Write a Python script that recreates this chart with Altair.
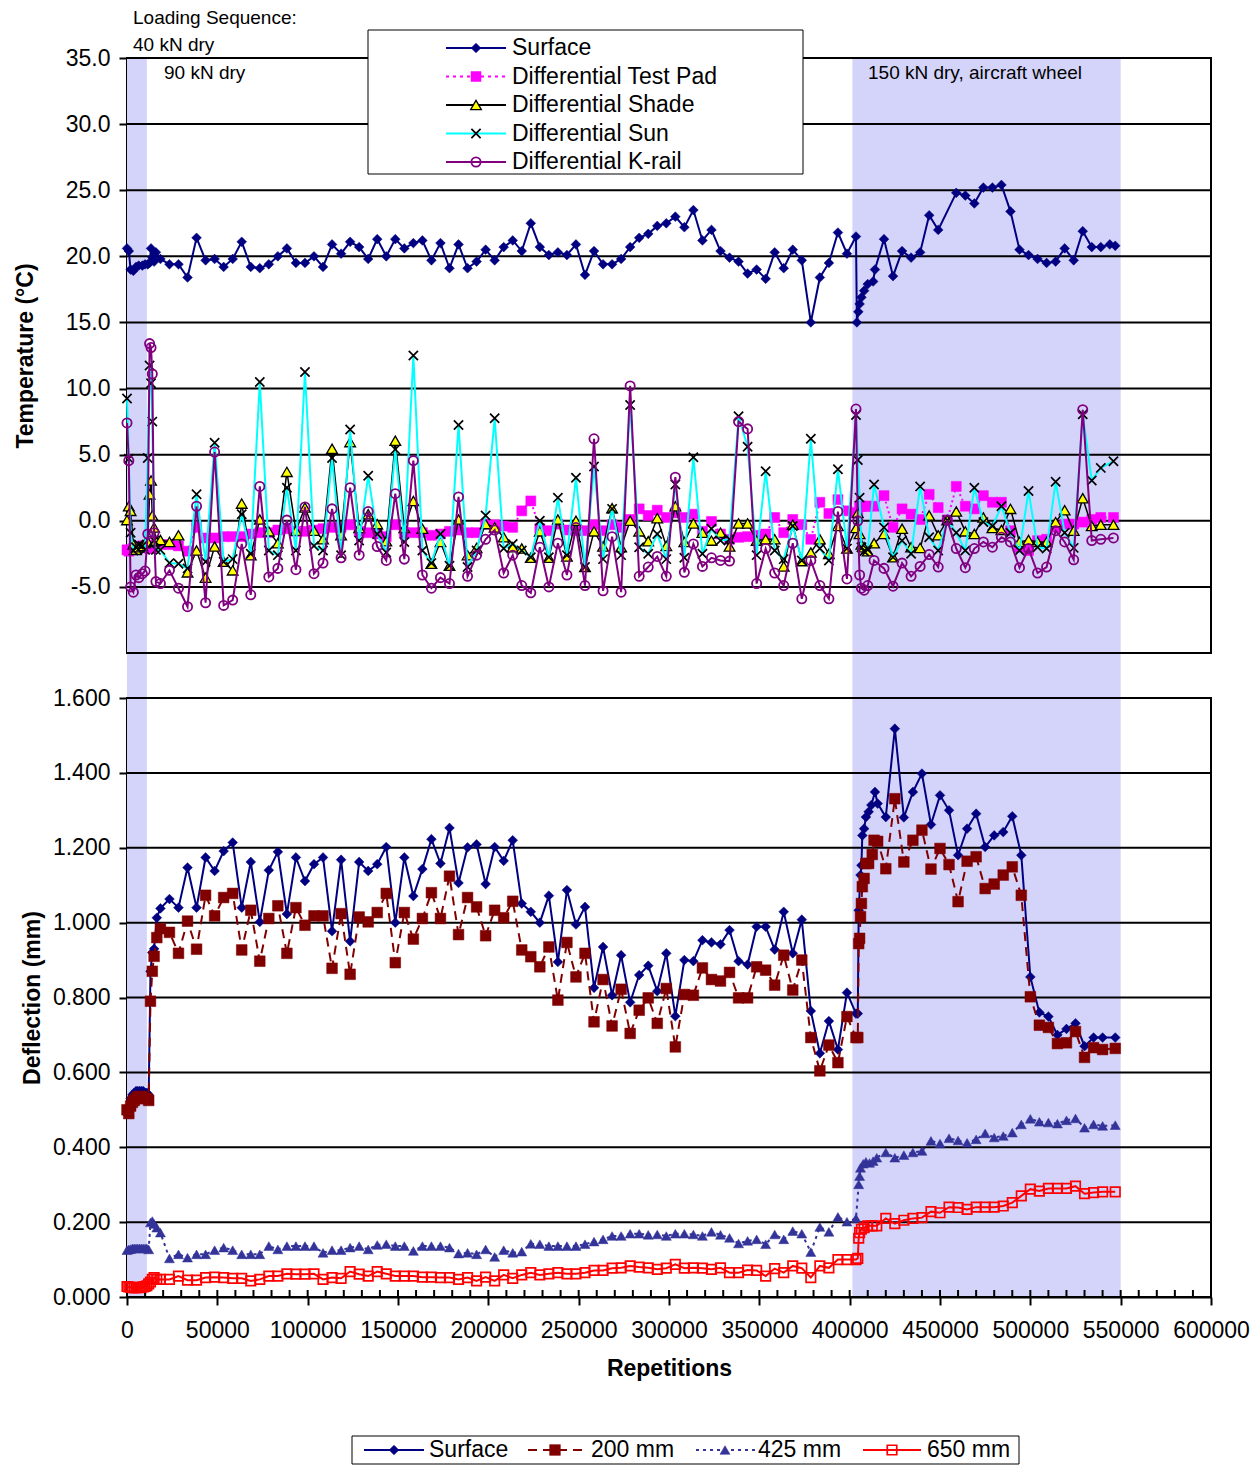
import altair as alt
import pandas as pd

FONT = "Liberation Sans, Arial, sans-serif"
W, HT, HD, GAP = 1084, 595, 599, 45

# ---------------- shared x schedule (repetitions) ----------------
MAIN_X = [18500, 23500, 28500, 33500, 38500, 43500, 48500, 53500, 58500, 63500,
          68500, 73500, 78500, 83500, 88500, 93500, 98500, 103500, 108500, 113500,
          118500, 123500, 128500, 133500, 138500, 143500, 148500, 153500, 158500, 163500,
          168500, 173500, 178500, 183500, 188500, 193500, 198500, 203500, 208500, 213500,
          218500, 223500, 228500, 233500, 238500, 243500, 248500, 253500, 258500, 263500,
          268500, 273500, 278500, 283500, 288500, 293500, 298500, 303500, 308500, 313500,
          318500, 323500, 328500, 333500, 338500, 343500, 348500, 353500, 358500, 363500,
          368500, 373500, 378500, 383500, 388500, 393500, 398500, 403500]

# ---------------- temperature panel ----------------
T_EARLY_X = [0, 1000, 2000, 3500, 5000, 6500, 8500, 10000, 11500, 12500, 13300, 14000, 15000, 16000]
T_BAND_X = [404500, 405500, 406500, 408000, 410000, 413500, 419000, 424000, 429000, 434000,
            439000, 444000, 449000, 454000, 459000, 464000, 469000, 474000, 479000, 484000,
            489000, 494000, 499000, 504000, 509000, 514000, 519000, 524000, 529000, 534000,
            539000, 546000]
SURF_T_BAND_X = [404000, 404800, 405500, 406500, 408000, 410000, 413000, 414000, 419000, 424000,
                 429000, 434000, 439000, 444000, 449000, 459000, 464000, 469000, 474000, 479000,
                 484000, 489000, 494000, 499000, 504000, 509000, 514000, 519000, 524000, 529000,
                 534000, 539000, 544000, 547000]

SURF_T_EARLY = [20.6, 20.4, 19.0, 18.9, 19.2, 19.3, 19.3, 19.4, 19.4, 19.5, 20.6, 19.9, 19.6, 20.3]
SURF_T_MAIN = [19.8, 19.4, 19.4, 18.4, 21.4, 19.7, 19.8, 19.2, 19.8, 21.1, 19.2, 19.1, 19.4, 20.0, 20.6,
               19.5, 19.5, 20.0, 19.2, 20.9, 20.2, 21.1, 20.7, 19.8, 21.3, 20.0, 21.3, 20.6, 21.0, 21.2,
               19.7, 21.0, 19.1, 20.9, 19.1, 19.6, 20.5, 19.7, 20.7, 21.2, 20.4, 22.5, 20.7, 20.1, 20.3,
               20.1, 20.9, 18.6, 20.4, 19.4, 19.4, 19.8, 20.7, 21.4, 21.7, 22.3, 22.5, 23.0, 22.2, 23.5,
               21.2, 22.0, 20.4, 19.9, 19.6, 18.7, 19.0, 18.3, 20.3, 19.1, 20.5, 19.7, 15.0, 18.4, 19.5,
               21.8, 20.2, 21.5]
SURF_T_BAND = [15.0, 15.8, 16.4, 16.9, 17.4, 17.9, 18.1, 19.0, 21.3, 18.5, 20.4, 19.9, 20.3, 23.1, 22.0,
               24.8, 24.6, 24.0, 25.2, 25.2, 25.4, 23.4, 20.5, 20.1, 19.8, 19.5, 19.6, 20.6, 19.7, 21.9,
               20.7, 20.7, 20.9, 20.8]

PAD_EARLY = [-2.2, -2.3, -2.2, -2.1, -2.0, -2.0, -1.9, -1.9, -2.0, -2.1, -2.1, -2.0, -1.9, -1.8]
PAD_MAIN = [-1.8, -1.8, -1.9, -2.3, -0.5, -1.3, -1.3, -1.2, -1.2, -1.2, -1.0, -0.9, -0.9, -0.7, -0.6,
            -0.8, -0.8, -0.7, -0.6, -0.5, -0.5, -0.3, -0.8, -0.9, -1.0, -1.2, -0.3, -0.9, -0.9, -0.9,
            -1.1, -1.0, -0.8, -0.7, -0.9, -0.9, -0.25, -0.3, -0.4,
            -0.5, 0.75, 1.5, -0.6, -0.75, -0.25, -0.7, -0.75, -0.75, -0.3, -0.75, -0.3, -0.5, 0.1, 0.9,
            0.4, 0.8, 0.25, 0.6, 0.25, 0.5, -0.8, -0.05, -1.0, -1.4, -1.25, -1.2, -1.1, -1.0, 0.25,
            -0.9, 0.1, -0.3, -1.4, 1.4, 0.55, 1.6, 0.75, 0.6]
PAD_BAND = [0.6, 1.1, 1.1, 1.1, 1.1, 1.1, 1.9, -0.5, 0.9, 0.5, 0.1, 2.0, 1.0, 0.05, 2.6, 1.1, 0.9, 1.9,
            1.4, 1.4, -0.75, -2.0, -2.25, -1.5, -1.4, -0.5, -0.25, -0.25, -0.1, 0.1, 0.25, 0.25]

SHADE_EARLY = [0.05, 1.1, 0.75, -1.8, -2.2, -2.0, -1.9, -1.7, -1.6, 2.0, 3.05, 0.4, -0.5, -1.5]
SHADE_MAIN = [-1.45, -1.6, -1.1, -3.9, -2.25, -4.3, -1.95, -3.1, -3.75, 1.3, -2.6, 0.1, -0.8, -1.7, 3.7,
              -0.75, 1.0, -0.75, -1.4, 5.45, -1.1, 5.95, -0.55, 0.5, -0.25, -1.55, 6.05, -0.55, 1.5, -0.6,
              -3.25, -1.6, -3.4, 0.1, -2.6, -2.05, -0.25, -0.5, -1.25,
              -2.0, -2.1, -2.8, -0.8, -2.8, 0.1, -2.7, 0.0, -3.5, -0.8, -1.95, 0.95, -2.0, 0.0, -0.8,
              -1.55, 0.2, -1.9, 1.1, -1.6, -0.2, -0.9, -1.5, -0.9, -1.95, -0.2, -0.2, -1.5, -1.4, -1.4,
              -3.45, -0.3, -3.05, -2.4, -1.4, -2.5, -0.4, -2.1, -0.55]
SHADE_BAND = [0.6, -1.0, -1.8, -2.0, -2.3, -1.7, -1.0, -2.75, -0.6, -2.0, -2.05, 0.4, -1.1, 0.05, 0.7,
              -0.8, -1.0, 0.25, -0.55, -0.7, 0.9, -1.6, -1.45, -1.6, -1.6, -0.1, 0.8, -0.75, 1.7, -0.4,
              -0.3, -0.3]

SUN_EARLY = [9.25, 4.7, -0.9, -2.25, -2.0, -1.8, -1.9, -2.2, 4.75, 11.75, 10.4, 7.5, -1.5, -2.2]
SUN_MAIN = [-2.2, -3.2, -3.25, -3.6, 2.0, -3.1, 5.9, -3.1, -2.9, 0.5, -2.5, 10.5, -2.25, -2.6, 2.5,
            -2.25, 11.25, -1.9, -2.25, 4.75, -2.6, 6.9, -1.5, 3.4, -1.0, -2.4, 5.4, -1.6, 12.5, -2.25,
            -3.2, -1.0, -3.4, 7.25, -3.5, -2.25, 0.4, 7.75, -2.1,
            -1.75, -2.25, -2.75, 0.0, -2.75, 1.75, -2.6, 3.25, -3.5, 4.1, -2.9, 0.9, -2.6, 8.75, -2.0,
            -2.5, -1.0, -2.9, 2.75, -2.8, 4.8, -2.5, -0.6, -1.5, -1.4, 7.9, 5.6, -2.6, 3.75, -2.25,
            -2.9, -0.4, -3.0, 6.2, -2.1, -3.0, 3.9, -2.1, 8.0]
SUN_BAND = [4.6, 1.75, -2.0, -2.3, -2.2, 2.75, -0.5, -2.75, -1.5, -2.5, 2.6, -1.25, -2.25, 0.05, -0.9,
            -2.25, 2.5, -0.1, -0.4, 1.1, -0.9, -2.25, 2.25, -2.0, -2.1, 2.95, -0.9, -2.05, 8.05, 3.05,
            4.0, 4.5]

KRAIL_EARLY = [7.4, 4.55, -5.0, -5.4, -4.1, -4.3, -4.0, -3.8, -1.0, 13.4, 13.1, 11.1, -0.9, -4.6]
KRAIL_MAIN = [-4.75, -3.75, -5.1, -6.5, 1.1, -6.2, 5.2, -6.4, -6.0, -1.75, -5.6, 2.6, -4.25, -3.6, 0.05,
              -3.7, 1.05, -4.0, -3.2, 0.9, -2.8, 2.5, -2.6, 0.7, -1.95, -3.0, 2.05, -2.9, 4.55, -4.1,
              -5.1, -4.3, -4.75, 1.8, -4.2, -2.6, -1.4, -0.7, -3.95,
              -2.6, -4.9, -5.45, -2.0, -5.0, -1.7, -4.1, -0.5, -4.9, 6.2, -5.3, -1.2, -5.4, 10.2, -4.2,
              -3.5, -2.7, -4.2, 3.3, -3.9, -1.75, -3.45, -2.8, -3.0, -3.05, 7.5, 6.95, -4.75, -2.1, -3.95,
              -4.9, -1.7, -5.9, -3.0, -4.9, -5.9, 0.7, -4.4, 8.45]
KRAIL_BAND = [0.0, -4.1, -5.1, -5.25, -4.9, -3.0, -3.6, -4.95, -3.2, -4.2, -3.45, -2.55, -3.5, 0.05, -2.1,
              -3.55, -2.1, -1.6, -2.0, -1.25, -1.6, -3.55, -2.1, -3.95, -3.5, -0.75, -1.6, -2.95, 8.4, -1.5,
              -1.4, -1.3]

# ---------------- deflection panel ----------------
D_EARLY_X = [0, 1000, 2000, 3000, 4000, 5000, 6000, 7000, 8000, 9000, 10000, 11000, 12000, 13000,
             14000, 15000, 16500]
D_BAND_STEPS = [420000, 425000, 430000, 435000, 440000, 445000, 450000, 455000, 460000, 465000,
                470000, 475000, 480000, 485000, 490000, 495000, 500000, 505000, 510000, 515000,
                520000, 525000, 530000, 535000, 540000, 547000]
SURF_D_BAND_X = [404500, 405000, 406000, 406500, 407000, 408000, 409000, 410500, 412000, 414000, 415500] + D_BAND_STEPS
D200_BAND_X = [404500, 405000, 405500, 406000, 406500, 407000, 408000, 409000, 410500, 412500, 413500, 415500] + D_BAND_STEPS
D425_BAND_X = [405000, 405500, 406000, 407500, 409000, 411000, 413000, 415000] + D_BAND_STEPS
D650_BAND_X = [404500, 405000, 405500, 406500, 408000, 410000, 412500, 415000] + D_BAND_STEPS

SURF_D_EARLY = [0.49, 0.51, 0.53, 0.54, 0.545, 0.55, 0.55, 0.55, 0.55, 0.55, 0.545, 0.545, 0.54, 0.87, 0.92, 0.93, 1.013]
SURF_D_MAIN = [1.038, 1.063, 1.040, 1.147, 1.040, 1.174, 1.138, 1.191, 1.214, 1.040,
               1.162, 1.002, 1.140, 1.189, 1.023, 1.174, 1.111, 1.156, 1.174, 0.977,
               1.168, 0.950, 1.162, 1.138, 1.156, 1.202, 1.000, 1.174, 1.071, 1.143,
               1.223, 1.158, 1.253, 1.106, 1.201, 1.209, 1.103, 1.202, 1.165, 1.220,
               1.051, 1.029, 1.000, 1.072, 0.895, 1.087, 0.995, 1.042, 0.826, 0.935,
               0.806, 0.913, 0.787, 0.860, 0.885, 0.817, 0.918, 0.750, 0.900, 0.897,
               0.953, 0.947, 0.942, 0.980, 0.897, 0.888, 0.989, 0.989, 0.928, 1.029,
               0.918, 1.008, 0.764, 0.651, 0.737, 0.661, 0.813, 0.757]
SURF_D_BAND = [0.757, 1.033, 1.127, 1.153, 1.233, 1.251, 1.282, 1.296, 1.314, 1.349, 1.318,
               1.282, 1.518, 1.281, 1.349, 1.398, 1.262, 1.340, 1.300, 1.180, 1.251, 1.291, 1.202,
               1.233, 1.242, 1.284, 1.180, 0.855, 0.760, 0.749, 0.700, 0.716, 0.731, 0.670, 0.693,
               0.693, 0.693]

D200_EARLY = [0.50, 0.49, 0.51, 0.52, 0.525, 0.53, 0.535, 0.535, 0.535, 0.535, 0.53, 0.53, 0.525, 0.79, 0.87, 0.91, 0.96]
D200_MAIN = [0.984, 0.974, 0.918, 1.004, 0.929, 1.073, 1.018, 1.067, 1.078, 0.927,
             1.033, 0.897, 1.011, 1.045, 0.918, 1.040, 0.993, 1.018, 1.018, 0.878,
             1.024, 0.862, 1.015, 1.002, 1.027, 1.078, 0.893, 1.027, 0.956, 1.011,
             1.080, 1.011, 1.124, 0.968, 1.067, 1.042, 0.965, 1.033, 1.013, 1.057,
             0.927, 0.909, 0.882, 0.935, 0.793, 0.947, 0.855, 0.918, 0.735, 0.848,
             0.724, 0.822, 0.704, 0.766, 0.799, 0.731, 0.824, 0.668, 0.808, 0.806,
             0.879, 0.848, 0.844, 0.867, 0.799, 0.799, 0.882, 0.873, 0.833, 0.913,
             0.820, 0.900, 0.693, 0.604, 0.673, 0.626, 0.749, 0.693]
D200_BAND = [0.693, 0.944, 0.958, 1.016, 1.051, 1.096, 1.118, 1.158, 1.158, 1.182, 1.220, 1.217,
             1.144, 1.331, 1.162, 1.220, 1.247, 1.143, 1.198, 1.155, 1.056, 1.164, 1.176, 1.091,
             1.103, 1.127, 1.149, 1.073, 0.802, 0.726, 0.720, 0.677, 0.679, 0.709, 0.640, 0.666,
             0.661, 0.664]

D425_EARLY = [0.125, 0.127, 0.128, 0.13, 0.13, 0.13, 0.13, 0.13, 0.13, 0.13, 0.13, 0.13, 0.127, 0.199, 0.203, 0.195, 0.185]
D425_MAIN = [0.172, 0.103, 0.114, 0.105, 0.114, 0.114, 0.125, 0.132, 0.125, 0.114,
             0.114, 0.114, 0.136, 0.127, 0.136, 0.136, 0.136, 0.136, 0.118, 0.125,
             0.125, 0.132, 0.136, 0.127, 0.139, 0.141, 0.136, 0.136, 0.123, 0.136,
             0.136, 0.136, 0.132, 0.116, 0.118, 0.114, 0.127, 0.107, 0.125, 0.118,
             0.121, 0.142, 0.141, 0.136, 0.136, 0.136, 0.136, 0.141, 0.148, 0.154,
             0.163, 0.163, 0.169, 0.169, 0.166, 0.167, 0.163, 0.169, 0.169, 0.167,
             0.163, 0.174, 0.166, 0.158, 0.143, 0.150, 0.154, 0.141, 0.167, 0.154,
             0.176, 0.169, 0.120, 0.187, 0.174, 0.214, 0.201, 0.210]
D425_BAND = [0.301, 0.323, 0.345, 0.356, 0.361, 0.358, 0.363, 0.372,
             0.386, 0.372, 0.379, 0.386, 0.390, 0.417, 0.410, 0.424, 0.418, 0.412, 0.421, 0.437,
             0.426, 0.430, 0.439, 0.461, 0.476, 0.468, 0.466, 0.463, 0.472, 0.477, 0.452, 0.461,
             0.457, 0.459]

D650_EARLY = [0.028, 0.027, 0.026, 0.025, 0.025, 0.025, 0.025, 0.026, 0.026, 0.027, 0.028, 0.03, 0.035, 0.04, 0.047, 0.052, 0.047]
D650_MAIN = [0.047, 0.047, 0.056, 0.045, 0.045, 0.052, 0.053, 0.052, 0.050, 0.050,
             0.043, 0.047, 0.056, 0.056, 0.062, 0.061, 0.061, 0.062, 0.047, 0.052,
             0.050, 0.068, 0.061, 0.056, 0.068, 0.062, 0.056, 0.056, 0.056, 0.053,
             0.053, 0.052, 0.052, 0.047, 0.052, 0.043, 0.053, 0.043, 0.059, 0.050,
             0.059, 0.065, 0.059, 0.062, 0.065, 0.062, 0.062, 0.065, 0.071, 0.071,
             0.077, 0.078, 0.083, 0.080, 0.078, 0.074, 0.077, 0.087, 0.077, 0.078,
             0.077, 0.074, 0.078, 0.065, 0.065, 0.072, 0.071, 0.056, 0.076, 0.065,
             0.083, 0.077, 0.052, 0.083, 0.078, 0.100, 0.100, 0.100]
D650_BAND = [0.103, 0.157, 0.172, 0.181, 0.185, 0.190, 0.190, 0.190,
             0.210, 0.196, 0.205, 0.210, 0.212, 0.228, 0.225, 0.240, 0.239, 0.234, 0.240, 0.240,
             0.240, 0.243, 0.252, 0.270, 0.288, 0.283, 0.290, 0.290, 0.290, 0.296, 0.276, 0.279,
             0.281, 0.281]

# ---------------- axes / bands ----------------
BAND_START = [0, 401500]
BAND_END = [11000, 550000]
T_TICKS = [-5, 0, 5, 10, 15, 20, 25, 30, 35]
T_GRID = [-10, -5, 0, 5, 10, 15, 20, 25, 30, 35]
D_TICKS = [0.0, 0.2, 0.4, 0.6, 0.8, 1.0, 1.2, 1.4, 1.6]
X_TICKS = [0, 50000, 100000, 150000, 200000, 250000, 300000, 350000, 400000, 450000, 500000, 550000, 600000]
X_MINOR = list(range(0, 600001, 10000))

NAVY, MAGENTA, CYAN, PURPLE = "#000080", "#FF00FF", "#00FFFF", "#800080"
DRED, SLATE, RED, YELLOW = "#800000", "#333399", "#FF0000", "#FFFF00"
BANDC = "#D4D4FA"
XPATH = "M-1,-1L1,1M1,-1L-1,1"


def frame(*parts):
    xs, ys = [], []
    for px, py in parts:
        xs += list(px)
        ys += list(py)
    return pd.DataFrame({"x": xs, "y": ys, "i": list(range(len(xs)))})


surfT = frame((T_EARLY_X, SURF_T_EARLY), (MAIN_X, SURF_T_MAIN), (SURF_T_BAND_X, SURF_T_BAND))
padT = frame((T_EARLY_X, PAD_EARLY), (MAIN_X, PAD_MAIN), (T_BAND_X, PAD_BAND))
shadeT = frame((T_EARLY_X, SHADE_EARLY), (MAIN_X, SHADE_MAIN), (T_BAND_X, SHADE_BAND))
sunT = frame((T_EARLY_X, SUN_EARLY), (MAIN_X, SUN_MAIN), (T_BAND_X, SUN_BAND))
krailT = frame((T_EARLY_X, KRAIL_EARLY), (MAIN_X, KRAIL_MAIN), (T_BAND_X, KRAIL_BAND))

surfD = frame((D_EARLY_X, SURF_D_EARLY), (MAIN_X, SURF_D_MAIN), (SURF_D_BAND_X, SURF_D_BAND))
d200 = frame((D_EARLY_X, D200_EARLY), (MAIN_X, D200_MAIN), (D200_BAND_X, D200_BAND))
d425 = frame((D_EARLY_X, D425_EARLY), (MAIN_X, D425_MAIN), (D425_BAND_X, D425_BAND))
d650 = frame((D_EARLY_X, D650_EARLY), (MAIN_X, D650_MAIN), (D650_BAND_X, D650_BAND))

bands = pd.DataFrame({"x0": BAND_START, "x1": BAND_END})
ONE = pd.DataFrame({"k": [0]})

XS = alt.Scale(domain=[0, 600000], nice=False, zero=False)
YT = alt.Scale(domain=[-10, 35], nice=False, zero=False)
YD = alt.Scale(domain=[0, 1.6], nice=False, zero=False)

axis_common = dict(grid=False, domainColor="black", domainWidth=2, tickColor="black", tickWidth=2,
                   tickSize=8, labelFont=FONT, labelFontSize=23, labelColor="black",
                   labelOverlap=False, labelFlush=False,
                   titleFont=FONT, titleFontSize=23, titleFontWeight="bold", titleColor="black")

T_AXIS = alt.Axis(
    values=T_TICKS, labelExpr="replace(format(datum.value, '.1f'), '\u2212', '-')", labelPadding=9,
    title="Temperature (\u00b0C)", titleX=-102, titleY=HT / 2, titleAngle=270,
    titleAlign="center", titleBaseline="middle", **axis_common)
XD_AXIS = alt.Axis(values=X_TICKS, format="d", labelPadding=14, title="Repetitions",
                   titlePadding=15, **axis_common)
D_AXIS = alt.Axis(
    values=D_TICKS, format=".3f", labelPadding=9, title="Deflection (mm)", titleX=-95, titleY=HD / 2,
    titleAngle=270, titleAlign="center", titleBaseline="middle", **axis_common)

XT = alt.X("x:Q", scale=XS, axis=None)
YTe = alt.Y("y:Q", scale=YT, axis=T_AXIS)
XD = alt.X("x:Q", scale=XS, axis=XD_AXIS)
YDe = alt.Y("y:Q", scale=YD, axis=D_AXIS)


def line(df, X, Y, color, width, dash=None):
    kw = dict(color=color, strokeWidth=width)
    if dash:
        kw["strokeDash"] = dash
    return alt.Chart(df).mark_line(**kw).encode(x=X, y=Y, order="i:Q")


def pts(df, X, Y, **mk):
    return alt.Chart(df).mark_point(opacity=1, **mk).encode(x=X, y=Y)


def legend_entry(y, x0, x1, xm, xt, label, line_kw, point_kw):
    base = alt.Chart(ONE)
    return [
        base.mark_rule(**line_kw).encode(x=alt.value(x0), x2=alt.value(x1), y=alt.value(y)),
        base.mark_point(opacity=1, **point_kw).encode(x=alt.value(xm), y=alt.value(y)),
        base.mark_text(align="left", baseline="middle", font=FONT, fontSize=23, color="black",
                       text=label).encode(x=alt.value(xt), y=alt.value(y)),
    ]


def box(x0, x1, y0, y1):
    return alt.Chart(ONE).mark_rect(fill="white", stroke="black", strokeWidth=1).encode(
        x=alt.value(x0), x2=alt.value(x1), y=alt.value(y0), y2=alt.value(y1))


def note(x, y, label, size=19):
    return alt.Chart(ONE).mark_text(align="left", baseline="middle", font=FONT, fontSize=size,
                                    color="black", text=label).encode(x=alt.value(x), y=alt.value(y))


# marker styles
M_SURF = dict(shape="diamond", filled=True, fill=NAVY, stroke=NAVY, strokeWidth=0.5, size=95)
M_PAD = dict(shape="square", filled=True, fill=MAGENTA, stroke=MAGENTA, strokeWidth=0.5, size=100)
M_SHADE = dict(shape="triangle-up", filled=True, fill=YELLOW, stroke="black", strokeWidth=1.3, size=115)
M_SUN = dict(shape=XPATH, filled=False, stroke="black", strokeWidth=1.7, size=85)
M_KRAIL = dict(shape="circle", filled=False, stroke=PURPLE, strokeWidth=1.8, size=85)
M_D200 = dict(shape="square", filled=True, fill=DRED, stroke=DRED, strokeWidth=0.5, size=115)
M_D425 = dict(shape="triangle-up", filled=True, fill=SLATE, stroke=SLATE, strokeWidth=0.5, size=100)
M_D650 = dict(shape="square", filled=False, stroke=RED, strokeWidth=1.7, size=90)

# ---------------- top panel ----------------
top_layers = [
    alt.Chart(bands).mark_rect(color=BANDC, clip=False).encode(
        x=alt.X("x0:Q", scale=XS, axis=None), x2="x1:Q", y=alt.value(0), y2=alt.value(HT + GAP)),
    alt.Chart(pd.DataFrame({"y": T_GRID})).mark_rule(color="black", strokeWidth=2).encode(y=YTe),
    line(surfT, XT, YTe, NAVY, 2), pts(surfT, XT, YTe, **M_SURF),
    line(padT, XT, YTe, MAGENTA, 2, [2, 3]), pts(padT, XT, YTe, **M_PAD),
    line(shadeT, XT, YTe, "black", 1.5), pts(shadeT, XT, YTe, **M_SHADE),
    line(sunT, XT, YTe, CYAN, 2), pts(sunT, XT, YTe, **M_SUN),
    line(krailT, XT, YTe, PURPLE, 2), pts(krailT, XT, YTe, **M_KRAIL),
    box(241, 676, -28, 116),
]
ty = [-10, 18.5, 47, 75.5, 104]
top_layers += legend_entry(ty[0], 319, 379, 349, 385, "Surface", dict(color=NAVY, strokeWidth=2), M_SURF)
top_layers += legend_entry(ty[1], 319, 379, 349, 385, "Differential Test Pad",
                           dict(color=MAGENTA, strokeWidth=2, strokeDash=[3, 4]), M_PAD)
top_layers += legend_entry(ty[2], 319, 379, 349, 385, "Differential Shade", dict(color="black", strokeWidth=2), M_SHADE)
top_layers += legend_entry(ty[3], 319, 379, 349, 385, "Differential Sun", dict(color=CYAN, strokeWidth=2), M_SUN)
top_layers += legend_entry(ty[4], 319, 379, 349, 385, "Differential K-rail", dict(color=PURPLE, strokeWidth=2), M_KRAIL)
top_layers += [
    note(6, -40, "Loading Sequence:"),
    note(6, -13, "40 kN dry"),
    note(37, 15, "90 kN dry"),
    note(741, 15, "150 kN dry, aircraft wheel"),
]
top = alt.layer(*top_layers).properties(width=W, height=HT)

# ---------------- bottom panel ----------------
bot_layers = [
    alt.Chart(bands).mark_rect(color=BANDC).encode(
        x=alt.X("x0:Q", scale=XS, axis=XD_AXIS), x2="x1:Q", y=alt.value(0), y2=alt.value(HD)),
    alt.Chart(pd.DataFrame({"y": D_TICKS})).mark_rule(color="black", strokeWidth=2).encode(y=YDe),
    alt.Chart(pd.DataFrame({"x": X_MINOR})).mark_rule(color="black", strokeWidth=2).encode(
        x=XD, y=alt.value(HD - 7), y2=alt.value(HD)),
    line(surfD, XD, YDe, NAVY, 2), pts(surfD, XD, YDe, **M_SURF),
    line(d200, XD, YDe, DRED, 2, [9, 6]), pts(d200, XD, YDe, **M_D200),
    line(d425, XD, YDe, SLATE, 2, [3, 4]), pts(d425, XD, YDe, **M_D425),
    line(d650, XD, YDe, RED, 2), pts(d650, XD, YDe, **M_D650),
    box(225, 892, 738, 766),
]
by = 752
bot_layers += legend_entry(by, 237, 297, 267, 302, "Surface", dict(color=NAVY, strokeWidth=2), M_SURF)
bot_layers += legend_entry(by, 401, 455, 428, 464, "200 mm", dict(color=DRED, strokeWidth=2, strokeDash=[9, 6]), M_D200)
bot_layers += legend_entry(by, 569, 629, 598, 631, "425 mm", dict(color=SLATE, strokeWidth=2, strokeDash=[3, 4]), M_D425)
bot_layers += legend_entry(by, 736, 794, 765, 800, "650 mm", dict(color=RED, strokeWidth=2), M_D650)
bot = alt.layer(*bot_layers).properties(width=W, height=HD)

chart = alt.vconcat(top, bot, spacing=GAP, bounds="flush").properties(
    padding={"left": 5, "top": 0, "right": 0, "bottom": 0}
).configure_view(stroke="black", strokeWidth=2)

chart.save("out.html", embed_options={"renderer": "svg", "actions": False})
